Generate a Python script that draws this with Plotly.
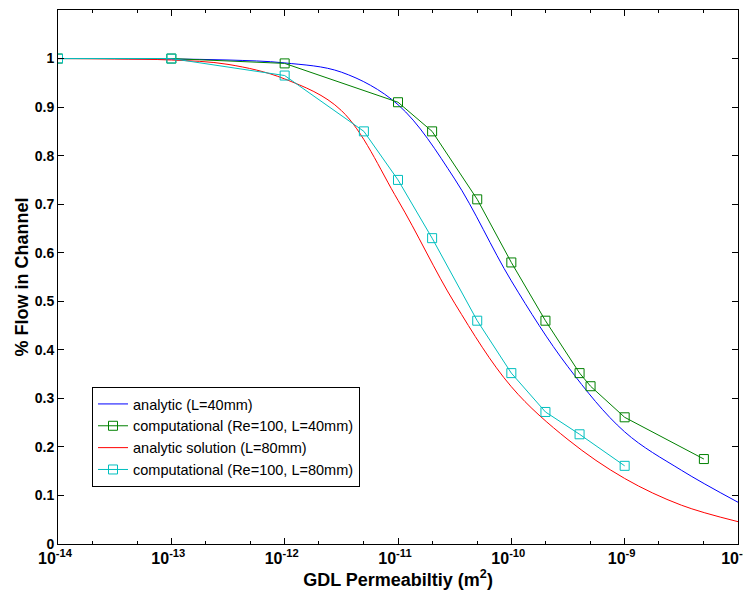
import plotly.graph_objects as go

# analytic curves
x_analytic = [1e-14, 10**-13.5, 1e-13, 10**-12.5, 1e-12, 10**-11.5, 1e-11, 10**-10.5,
              1e-10, 10**-9.5, 1e-9, 10**-8.5, 1e-8]
y_analytic_40 = [1.0, 1.0, 0.999, 0.997, 0.991, 0.972, 0.905, 0.752,
                 0.542, 0.365, 0.231, 0.152, 0.086]
y_analytic_80 = [1.0, 0.999, 0.997, 0.988, 0.958, 0.893, 0.708, 0.496,
                 0.324, 0.215, 0.135, 0.080, 0.046]

# computational results
x_comp_40 = [1e-14, 1e-13, 1e-12, 1e-11, 2e-11, 5e-11, 1e-10, 2e-10, 4e-10, 5e-10, 1e-9, 5e-9]
y_comp_40 = [1.0, 1.0, 0.99, 0.91, 0.85, 0.71, 0.58, 0.46, 0.352, 0.325, 0.261, 0.175]
x_comp_80 = [1e-14, 1e-13, 1e-12, 5e-12, 1e-11, 2e-11, 5e-11, 1e-10, 2e-10, 4e-10, 1e-9]
y_comp_80 = [1.0, 1.0, 0.965, 0.85, 0.75, 0.63, 0.46, 0.352, 0.272, 0.226, 0.161]

x_ticks = [1e-14, 1e-13, 1e-12, 1e-11, 1e-10, 1e-9, 1e-8]
x_ticklabels = ["10<sup>-14</sup>", "10<sup>-13</sup>", "10<sup>-12</sup>", "10<sup>-11</sup>",
                "10<sup>-10</sup>", "10<sup>-9</sup>", "10<sup>-8</sup>"]
y_ticks = [0, 0.1, 0.2, 0.3, 0.4, 0.5, 0.6, 0.7, 0.8, 0.9, 1]
y_ticklabels = ["0", "0.1", "0.2", "0.3", "0.4", "0.5", "0.6", "0.7", "0.8", "0.9", "1"]

green = "rgb(0,128,0)"
cyan = "rgb(0,191,191)"
FONT = "Liberation Sans, Arial, sans-serif"

fig = go.Figure()
fig.add_trace(go.Scatter(x=x_analytic, y=y_analytic_40, mode="lines",
                         line=dict(color="blue", width=1, shape="spline"),
                         name="analytic (L=40mm)"))
fig.add_trace(go.Scatter(x=x_comp_40, y=y_comp_40, mode="lines+markers",
                         line=dict(color=green, width=1),
                         marker=dict(symbol="square-open", size=9, color=green, line=dict(width=1)),
                         name="computational (Re=100, L=40mm)"))
fig.add_trace(go.Scatter(x=x_analytic, y=y_analytic_80, mode="lines",
                         line=dict(color="red", width=1, shape="spline"),
                         name="analytic solution (L=80mm)"))
fig.add_trace(go.Scatter(x=x_comp_80, y=y_comp_80, mode="lines+markers",
                         line=dict(color=cyan, width=1),
                         marker=dict(symbol="square-open", size=9, color=cyan, line=dict(width=1)),
                         name="computational (Re=100, L=80mm)"))

fig.update_layout(
    width=743, height=593,
    margin=dict(l=50, r=13, t=2, b=57),
    plot_bgcolor="white", paper_bgcolor="white",
    font=dict(family=FONT, color="black"),
    showlegend=True,
    legend=dict(x=0.05, y=0.294, xanchor="left", yanchor="top",
                bgcolor="white", bordercolor="black", borderwidth=1,
                font=dict(size=14.5, family=FONT),
                itemwidth=30, tracegroupgap=0),
    xaxis=dict(type="log", range=[-14, -8], tickvals=x_ticks, ticktext=x_ticklabels,
               automargin=False, ticklabeloverflow="allow", ticklabelshift=-3,
               showline=True, linecolor="black", linewidth=1, mirror="ticks",
               ticks="inside", ticklen=6, tickcolor="black", showgrid=False, zeroline=False,
               tickfont=dict(family=FONT, size=16, color="black", weight="bold"),
               minor=dict(ticks="inside", ticklen=3, tickcolor="black", showgrid=False),
               title=dict(text="<b>GDL Permeabiltiy (m<sup>2</sup>)</b>",
                          font=dict(size=18, family=FONT), standoff=4)),
    yaxis=dict(range=[0, 1.1], tickvals=y_ticks, ticktext=y_ticklabels,
               automargin=True, ticklabeloverflow="allow",
               showline=True, linecolor="black", linewidth=1, mirror="ticks",
               ticks="inside", ticklen=6, tickcolor="black", showgrid=False, zeroline=False,
               tickfont=dict(family=FONT, size=14, color="black", weight="bold"),
               title=dict(text="<b>% Flow in Channel</b>", font=dict(size=18, family=FONT),
                          standoff=1)),
)

fig.write_html("out.html")
